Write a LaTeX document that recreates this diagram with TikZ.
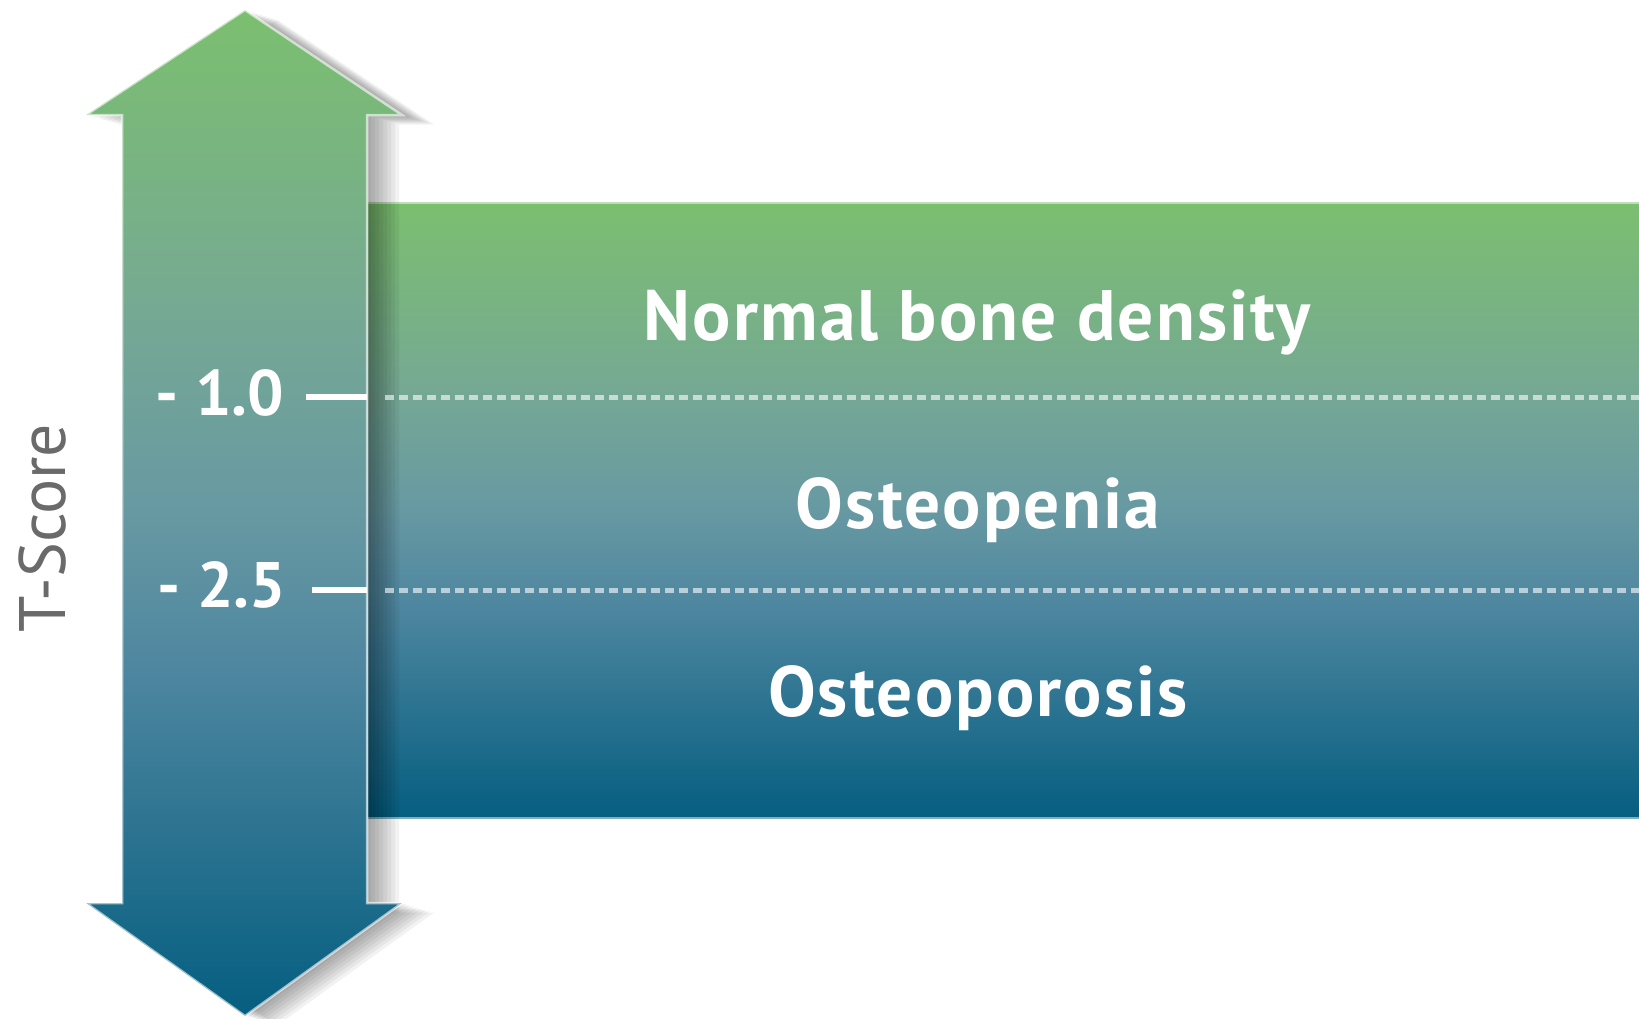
\documentclass[tikz,border=0pt]{standalone}
\usepackage{fontspec}
\setmainfont{PT Sans}
\newfontfamily\bandfont[LetterSpace=3]{PT Sans}
\usepackage{xcolor}
\definecolor{tsgreen}{HTML}{7BBF6F}
\definecolor{tsmidgreen}{HTML}{76A993}
\definecolor{tsteal}{HTML}{6799A2}
\definecolor{tsblue}{HTML}{4F87A0}
\definecolor{tsdark}{HTML}{055E80}
\definecolor{labelgray}{HTML}{6A6A6A}
\usepackage{tikz}
\usetikzlibrary{positioning}
\pgfdeclareverticalshading{tscale}{100bp}{color(0bp)=(tsdark); color(25bp)=(tsdark); color(42.5bp)=(tsblue); color(50bp)=(tsteal); color(60bp)=(tsmidgreen); color(75bp)=(tsgreen); color(100bp)=(tsgreen)}
\newcommand{\arrowpath}{(245,10) -- (402,115) -- (367,115) -- (367,903) -- (402,903) -- (245,1016) -- (86,903) -- (122,903) -- (122,115) -- (86,115) -- cycle}

\begin{document}
\begin{tikzpicture}[
  x=0.1mm,y=-0.1mm,
  bandtext/.style={text=white,font=\bandfont\fontsize{20.3}{24}\selectfont\bfseries,anchor=base,inner sep=0pt},
  ticklabel/.style={text=white,font=\fontsize{18.3}{22}\selectfont\bfseries,anchor=base,inner sep=0pt},
  axislabel/.style={text=labelgray,font=\fontsize{18.7}{22}\selectfont,rotate=90,inner sep=0pt},
  tickline/.style={white,line width=0.6mm},
  dotline/.style={white,opacity=.6,line width=0.5mm,dash pattern=on 0.9mm off 0.5mm},
  edgeline/.style={white,opacity=.5,line width=0.3mm},
  shadowlayer/.style={fill=black,opacity=.05}
]
\useasboundingbox (0,0) rectangle (1639,1018);
\shade[shading=tscale] (368,202) rectangle (1639,818);
\draw[edgeline] (368,202) -- (1639,202);
\draw[edgeline] (368,818) -- (1639,818);
\foreach \s in {4,8,...,32}
  \fill[shadowlayer,shift={(\s,0.3*\s)}] \arrowpath;
\shade[shading=tscale,draw=white,draw opacity=.6,line width=0.25mm] \arrowpath;
\coordinate (t1) at (306,397);
\coordinate (b1) at (367,397);
\coordinate (d1) at (385,397);
\coordinate (e1) at (1639,397);
\coordinate (t2) at (312,590);
\coordinate (b2) at (367,590);
\coordinate (d2) at (385,590);
\coordinate (e2) at (1639,590);
\draw[tickline] (t1) -- (b1);
\draw[tickline] (t2) -- (b2);
\draw[dotline] (d1) -- (e1);
\draw[dotline] (d2) -- (e2);
\node[ticklabel] (v1) at (220,415) {- 1.0};
\node[ticklabel] (v2) at (222,607) {- 2.5};
\node[bandtext] (normal) at (977,340) {Normal bone density};
\node[bandtext] (penia) at (978,528) {Osteopenia};
\node[bandtext] (porosis) at (978,716) {Osteoporosis};
\node[axislabel] (tscore) at (42,528) {T-Score};
\end{tikzpicture}
\end{document}
